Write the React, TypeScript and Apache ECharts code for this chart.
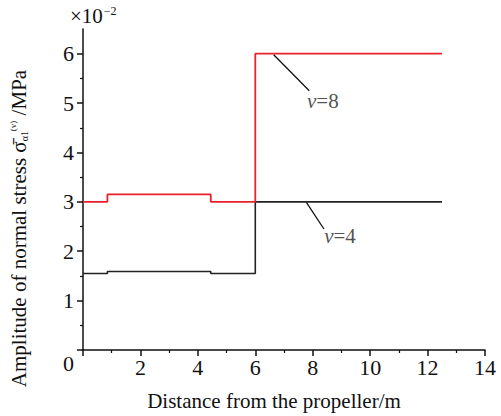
import React, { useEffect, useRef } from 'react';
import * as echarts from 'echarts';

const FONT = '"Liberation Serif", "Times New Roman", Times, serif';

// Step segments: start x of each segment, and the value on it
const segmentStarts = [0, 0.85, 4.45, 6.0];
const segmentEnd = 12.5;
const v8Values = [3.0, 3.15, 3.0, 6.0];
const v4Values = [1.55, 1.59, 1.55, 3.0];

// Axis ticks
const yMajorTicks = [0, 1, 2, 3, 4, 5, 6];
const yMinorTicks = [0.5, 1.5, 2.5, 3.5, 4.5, 5.5];

// Annotation leader lines and label anchors (data coords)
const v8Leader = [[6.64, 5.98], [7.88, 5.25]];
const v4Leader = [[7.78, 2.99], [8.39, 2.45]];
const v8LabelAt = [7.8, 5.05];
const v4LabelAt = [8.4, 2.31];

function stepData(values: number[]) {
  const d = segmentStarts.map((x, i) => [x, values[i]]);
  d.push([segmentEnd, values[values.length - 1]]);
  return d;
}

export default function App() {
  const ref = useRef<HTMLDivElement>(null);
  useEffect(() => {
    const chart = echarts.init(ref.current!, null, { renderer: 'svg' });
    const axisLine = { show: true, lineStyle: { color: '#111', width: 1.5 } };
    const option: any = {
      animation: false,
      backgroundColor: '#fff',
      grid: { left: 77, right: 16, top: 29, bottom: 55 },
      graphic: [
        {
          type: 'text',
          left: 70,
          top: 5,
          style: {
            text: '×10{s|−2}',
            font: `21px ${FONT}`,
            fill: '#111',
            rich: { s: { fontSize: 12, fontFamily: FONT, verticalAlign: 'top', padding: [0, 0, 10, 1] } },
          },
        },
      ],
      xAxis: {
        type: 'value',
        min: 0,
        max: 14,
        interval: 2,
        name: 'Distance from the propeller/m',
        nameLocation: 'middle',
        nameGap: 40,
        nameTextStyle: { fontFamily: FONT, fontSize: 21, color: '#111', padding: [0, 20, 0, 0] },
        axisLine,
        axisTick: { show: true, length: 6, lineStyle: { color: '#111', width: 1.5 } },
        minorTick: { show: true, splitNumber: 2, length: 3, lineStyle: { color: '#111', width: 1.2 } },
        axisLabel: {
          fontFamily: FONT,
          fontSize: 22,
          color: '#111',
          margin: 6,
          formatter: (v: number) => (v === 0 ? '' : String(v)),
        },
        splitLine: { show: false },
      },
      yAxis: [
        {
          type: 'value',
          min: 0,
          max: 6.5,
          position: 'left',
          name: 'Amplitude of normal stress σ̄{sub|α1}{sup|(v)} /MPa',
          nameLocation: 'middle',
          nameGap: 54,
          nameTextStyle: {
            fontFamily: FONT,
            fontSize: 21,
            color: '#111',
            padding: [0, 78, 0, 0],
            rich: {
              sub: { fontFamily: FONT, fontSize: 10, color: '#111', verticalAlign: 'bottom', padding: [8, 0, 0, 0] },
              sup: { fontFamily: FONT, fontSize: 9, color: '#111', verticalAlign: 'top', padding: [0, 0, 10, 0] },
            },
          },
          axisLine,
          axisTick: { show: true, length: 6, customValues: yMajorTicks, lineStyle: { color: '#111', width: 1.5 } },
          axisLabel: {
            customValues: yMajorTicks,
            fontFamily: FONT,
            fontSize: 22,
            color: '#111',
            margin: 9,
            formatter: (v: number) => (v === 0 ? '{z|0}' : String(v)),
            rich: { z: { fontFamily: FONT, fontSize: 22, color: '#111', padding: [26, 0, 0, 0] } },
          },
          splitLine: { show: false },
        },
        {
          type: 'value',
          min: 0,
          max: 6.5,
          position: 'left',
          offset: 0,
          axisLine: { show: false },
          axisTick: { show: true, length: 3, customValues: yMinorTicks, lineStyle: { color: '#111', width: 1.2 } },
          axisLabel: { show: false },
          splitLine: { show: false },
        },
      ],
      series: [
        {
          type: 'line',
          name: 'v=4',
          step: 'end',
          data: stepData(v4Values),
          showSymbol: false,
          lineStyle: { color: '#222', width: 1.6 },
          z: 2,
        },
        {
          type: 'line',
          name: 'v=8',
          step: 'end',
          data: stepData(v8Values),
          showSymbol: false,
          lineStyle: { color: '#e8212b', width: 1.8 },
          z: 3,
        },
        {
          type: 'line',
          data: v8Leader,
          showSymbol: false,
          lineStyle: { color: '#111', width: 1.3 },
          z: 4,
        },
        {
          type: 'line',
          data: v4Leader,
          showSymbol: false,
          lineStyle: { color: '#111', width: 1.3 },
          z: 4,
        },
        {
          type: 'scatter',
          symbolSize: 0,
          data: [
            { value: v8LabelAt, name: '8' },
            { value: v4LabelAt, name: '4' },
          ],
          label: {
            show: true,
            position: 'right',
            distance: 0,
            formatter: (p: any) => `{i|v}{n|=${p.name}}`,
            rich: {
              i: { fontFamily: FONT, fontSize: 21, fontStyle: 'italic', color: '#222' },
              n: { fontFamily: FONT, fontSize: 21, color: '#222' },
            },
          },
          z: 5,
        },
      ],
    };
    chart.setOption(option);
    return () => chart.dispose();
  }, []);
  return <div ref={ref} style={{ position: 'fixed', left: 0, top: 0, width: 501, height: 416 }} />;
}
